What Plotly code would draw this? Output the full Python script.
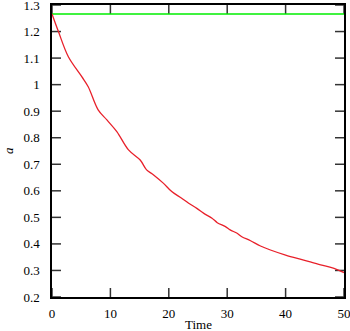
import plotly.graph_objects as go

time_red = [0, 1.1, 2.8, 5.1, 6.2, 7.9, 9.4, 11.1, 13.1, 15.1, 16.2, 17.4, 19.1, 20.5,
            22.2, 23.4, 24.8, 26, 27.4, 28.3, 29.7, 30.5, 31.7, 32.5, 34, 35.7, 37.4,
            40, 43.1, 46, 48.3, 50]
a_red = [1.266, 1.2, 1.105, 1.03, 0.992, 0.905, 0.867, 0.823, 0.754, 0.716, 0.679, 0.66,
         0.628, 0.597, 0.572, 0.553, 0.534, 0.515, 0.497, 0.48, 0.465, 0.453, 0.44, 0.427,
         0.412, 0.392, 0.377, 0.358, 0.339, 0.321, 0.308, 0.292]
time_green = [0, 50]
a_green = [1.266, 1.266]

x_ticks = [0, 10, 20, 30, 40, 50]
y_ticks = [0.2, 0.3, 0.4, 0.5, 0.6, 0.7, 0.8, 0.9, 1.0, 1.1, 1.2, 1.3]
y_ticktext = ["0.2", "0.3", "0.4", "0.5", "0.6", "0.7", "0.8", "0.9", "1", "1.1", "1.2", "1.3"]
x_range = [0, 50]
y_range = [0.2, 1.3]

W, H = 350, 331
M = dict(l=52, r=6, t=5, b=34)
plot_w = W - M["l"] - M["r"]
plot_h = H - M["t"] - M["b"]
TICK_PX = 9
dx = TICK_PX / plot_w * (x_range[1] - x_range[0])
dy = TICK_PX / plot_h * (y_range[1] - y_range[0])

# inside tick marks on all four sides, built from the tick lists
tx, ty = [], []
for xv in x_ticks:
    tx += [xv, xv, None, xv, xv, None]
    ty += [y_range[0], y_range[0] + dy, None, y_range[1], y_range[1] - dy, None]
for yv in y_ticks:
    tx += [x_range[0], x_range[0] + dx, None, x_range[1], x_range[1] - dx, None]
    ty += [yv, yv, None, yv, yv, None]

fig = go.Figure()
fig.add_trace(go.Scatter(x=tx, y=ty, mode="lines", line=dict(color="#333333", width=1.5),
                         hoverinfo="skip", showlegend=False, cliponaxis=False))
fig.add_trace(go.Scatter(x=time_green, y=a_green, mode="lines",
                         line=dict(color="#00ee00", width=1.5), showlegend=False))
fig.add_trace(go.Scatter(x=time_red, y=a_red, mode="lines", line_shape="spline",
                         line=dict(color="#e8202a", width=1.3), showlegend=False))

font = dict(family="Liberation Serif", size=13, color="black")
fig.update_layout(
    width=W, height=H,
    margin=M,
    paper_bgcolor="white", plot_bgcolor="white",
    font=font,
    xaxis=dict(range=x_range, tickmode="array", tickvals=x_ticks, ticks="",
               showline=True, linecolor="black", linewidth=1.5, mirror=True,
               showgrid=False, zeroline=False, ticklabeloverflow="allow",
               automargin=False, ticklabelstandoff=4),
    yaxis=dict(range=y_range, tickmode="array", tickvals=y_ticks, ticktext=y_ticktext,
               ticks="", showline=True, linecolor="black", linewidth=1.5, mirror=True,
               showgrid=False, zeroline=False, ticklabeloverflow="allow",
               automargin=False, ticklabelstandoff=8),
    annotations=[
        dict(text="Time", xref="paper", yref="paper", x=0.5, y=0, yshift=-27,
             xanchor="center", yanchor="middle", showarrow=False, font=font),
        dict(text="<i>a</i>", xref="paper", yref="paper", x=0, y=0.5, xshift=-44,
             xanchor="center", yanchor="middle", textangle=-90, showarrow=False,
             font=font),
    ],
)
fig.write_html("out.html", config={"displayModeBar": False},
               post_script="document.body.style.margin='0';document.body.style.overflow='hidden';")
